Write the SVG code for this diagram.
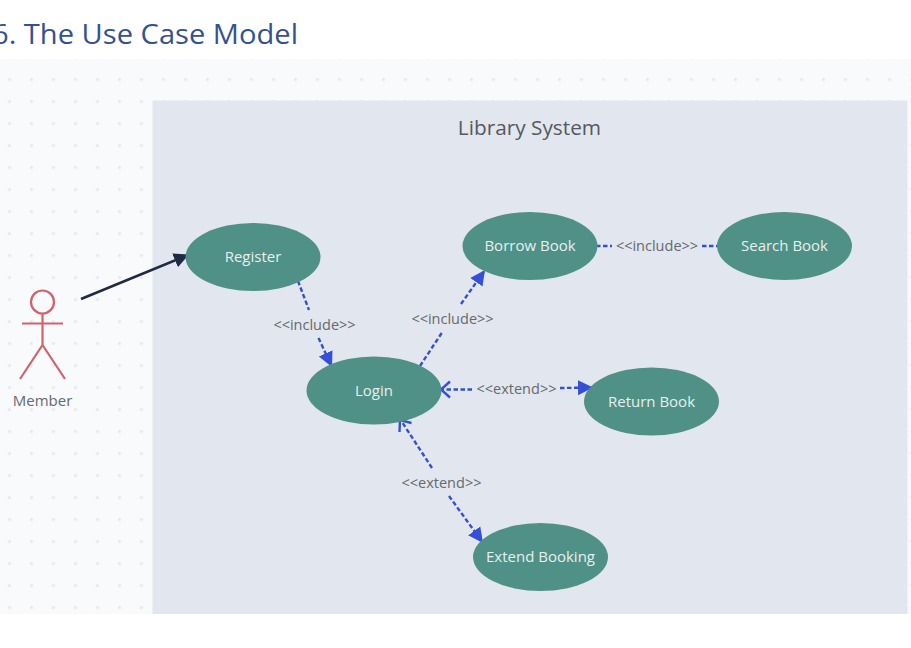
<svg xmlns="http://www.w3.org/2000/svg" width="911" height="648" viewBox="0 0 911 648">
<style>
.uc{fill:#4f9186}
.uct{font:15px "Open Sans","Noto Sans",sans-serif;fill:#e6f0ee;text-anchor:middle}
.lbl{font:14.500px "Open Sans","Noto Sans",sans-serif;fill:#66696e;text-anchor:middle}
.dash{fill:none;stroke:#3550cf;stroke-width:2.400;stroke-dasharray:4.500 2.500}
.actor{fill:none;stroke:#d0626c;stroke-width:2.200}
</style>
<defs>
<pattern id="dots" x="-1.500" y="68.500" width="22" height="22" patternUnits="userSpaceOnUse"><circle cx="11" cy="11" r="1.500" fill="#e3e5eb"/></pattern>
<marker id="solidBlue" markerWidth="18" markerHeight="18" refX="15" refY="8" orient="auto" markerUnits="userSpaceOnUse"><path d="M0 0.500L15 8L0 15.500Z" fill="#3550d6"/></marker>
<marker id="solidDark" markerWidth="18" markerHeight="18" refX="14" refY="8" orient="auto" markerUnits="userSpaceOnUse"><path d="M0 0.500L15 8L0 15.500Z" fill="#1f2a44"/></marker>
</defs>
<rect width="911" height="648" fill="#fff"/>
<text x="-8" y="44" font-family="Open Sans, Noto Sans, sans-serif" font-size="27.500" fill="#34528f" textLength="306" lengthAdjust="spacingAndGlyphs">6. The Use Case Model</text>
<rect x="0" y="59" width="911" height="555" fill="#f9fafc"/>
<rect x="0" y="59" width="911" height="555" fill="url(#dots)"/>
<rect x="152.500" y="100.500" width="755" height="513.500" fill="#e2e6ee"/>
<text x="529.500" y="134.500" font-family="Open Sans, Noto Sans, sans-serif" font-size="20.800" fill="#55595f" text-anchor="middle">Library System</text>

<g id="connectors">
<path d="M81 299L188 255" fill="none" stroke="#1f2a44" stroke-width="2.500" marker-end="url(#solidDark)"/>
<path class="dash" d="M298 281L309 310"/>
<path class="dash" d="M318.500 338L332 367" marker-end="url(#solidBlue)"/>
<path class="dash" d="M420 366L443 331"/>
<path class="dash" d="M461 304L485 270" marker-end="url(#solidBlue)"/>
<path class="dash" d="M596 246L612 246"/>
<path class="dash" d="M702 246L718 246"/>
<path class="dash" d="M472 389.500L443 389.500"/>
<path d="M450 381.500L441 389.500L450 397.500" fill="none" stroke="#3550d6" stroke-width="2.400"/>
<path class="dash" d="M560 388L593 387.500" marker-end="url(#solidBlue)"/>
<path class="dash" d="M432 468L402 422"/>
<path d="M399.500 432L400 420L411.500 423" fill="none" stroke="#3550d6" stroke-width="2.400"/>
<path class="dash" d="M449 496L483 543" marker-end="url(#solidBlue)"/>
<text class="lbl" x="314.500" y="329.500">&lt;&lt;include&gt;&gt;</text>
<text class="lbl" x="452.500" y="323.500">&lt;&lt;include&gt;&gt;</text>
<text class="lbl" x="657" y="251">&lt;&lt;include&gt;&gt;</text>
<text class="lbl" x="516.500" y="394">&lt;&lt;extend&gt;&gt;</text>
<text class="lbl" x="441.500" y="488">&lt;&lt;extend&gt;&gt;</text>
</g>

<g id="member">
<circle class="actor" cx="42.500" cy="302" r="11.500"/>
<path class="actor" d="M42.500 313.500V345M22 323.500H63M42.500 345L20 379M42.500 345L65 379"/>
<text x="42.500" y="405.500" font-family="Open Sans, Noto Sans, sans-serif" font-size="15" fill="#66696e" text-anchor="middle">Member</text>
</g>
<g id="register"><ellipse class="uc" cx="253" cy="257" rx="67.500" ry="34"/><text class="uct" x="253" y="262">Register</text></g>
<g id="login"><ellipse class="uc" cx="374" cy="390.500" rx="67.500" ry="34"/><text class="uct" x="374" y="396">Login</text></g>
<g id="borrow-book"><ellipse class="uc" cx="530" cy="246" rx="67.500" ry="34"/><text class="uct" x="530" y="251">Borrow Book</text></g>
<g id="search-book"><ellipse class="uc" cx="784.500" cy="246" rx="67.500" ry="34"/><text class="uct" x="784.500" y="251">Search Book</text></g>
<g id="return-book"><ellipse class="uc" cx="651.500" cy="401.500" rx="67.500" ry="34"/><text class="uct" x="651.500" y="407">Return Book</text></g>
<g id="extend-booking"><ellipse class="uc" cx="540.500" cy="557" rx="67.500" ry="34"/><text class="uct" x="540.500" y="562">Extend Booking</text></g>
</svg>
